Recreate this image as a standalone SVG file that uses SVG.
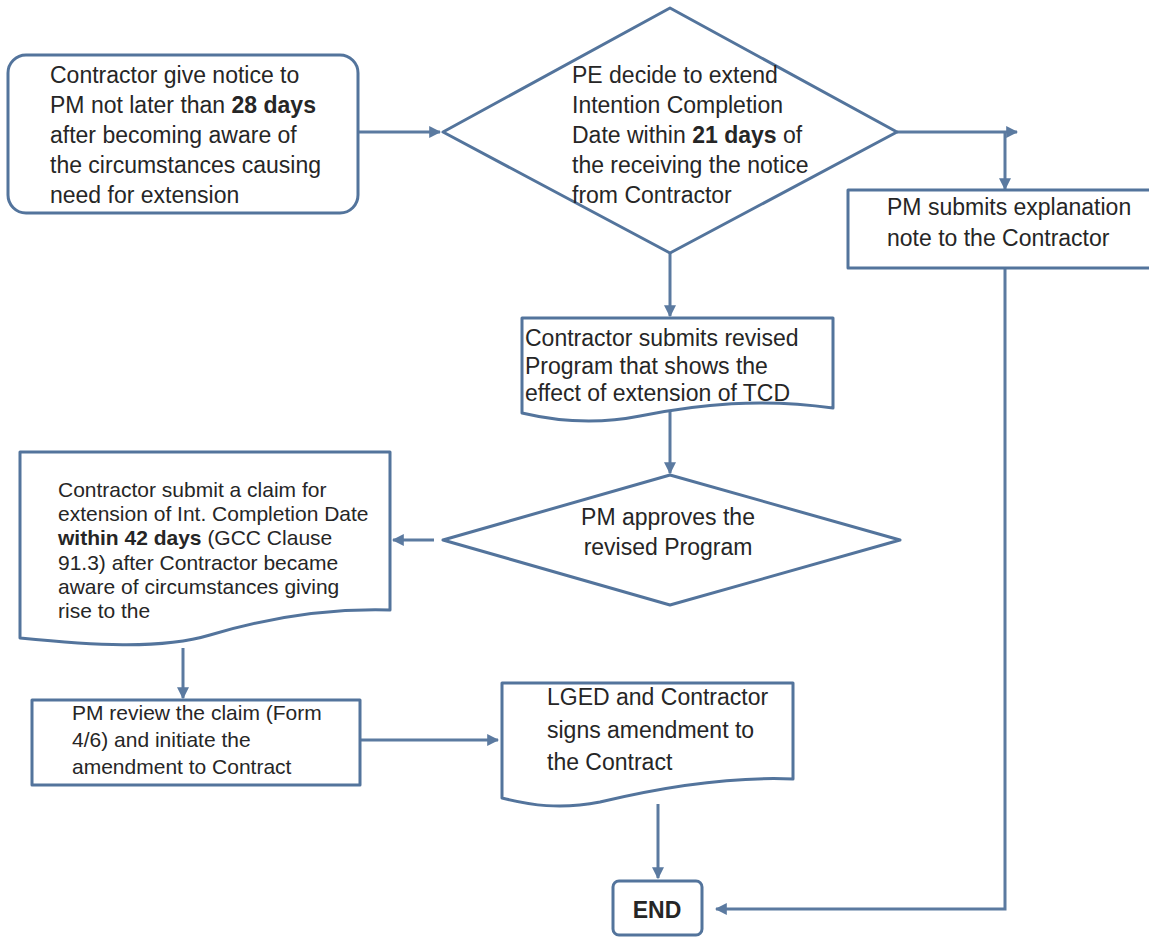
<svg xmlns="http://www.w3.org/2000/svg" width="1149" height="939" viewBox="0 0 1149 939">
<style>
.shape{fill:#ffffff;stroke:#53749c;stroke-width:3;stroke-linejoin:round}
.conn{fill:none;stroke:#5b7aa0;stroke-width:3}
text{font-family:"Liberation Sans",Arial,sans-serif;fill:#262626}
.t23{font-size:23px}
.t21{font-size:21px}
.b{font-weight:bold}
</style>
<defs>
<marker id="arr" viewBox="0 0 10 10" refX="9" refY="5" markerWidth="4" markerHeight="4" orient="auto" markerUnits="strokeWidth">
<path d="M0,0 L10,5 L0,10 Z" fill="#5b7aa0"/>
</marker>
</defs>
<rect width="1149" height="939" fill="#ffffff"/>
<g id="connectors">
<path class="conn" d="M358,132 H440" marker-end="url(#arr)"/>
<path class="conn" d="M897,132 H1017" marker-end="url(#arr)"/>
<path class="conn" d="M1005,132 V189" marker-end="url(#arr)"/>
<path class="conn" d="M1005,268 V909 H716" marker-end="url(#arr)"/>
<path class="conn" d="M670,253 V316" marker-end="url(#arr)"/>
<path class="conn" d="M670,412 V473" marker-end="url(#arr)"/>
<path class="conn" d="M434,540 H393" marker-end="url(#arr)"/>
<path class="conn" d="M183,648 V698" marker-end="url(#arr)"/>
<path class="conn" d="M360,740 H498" marker-end="url(#arr)"/>
<path class="conn" d="M658,804 V878" marker-end="url(#arr)"/>
</g>
<g id="n1">
<rect class="shape" x="8" y="55" width="350" height="158" rx="18"/>
<text class="t23" x="50" y="83">Contractor give notice to</text>
<text class="t23" x="50" y="113">PM not later than <tspan class="b">28 days</tspan></text>
<text class="t23" x="50" y="143">after becoming aware of</text>
<text class="t23" x="50" y="173">the circumstances causing</text>
<text class="t23" x="50" y="203">need for extension</text>
</g>
<g id="d1">
<path class="shape" d="M670,8 L897,132 L670,253 L443,132 Z"/>
<text class="t23" x="572" y="83">PE decide to extend</text>
<text class="t23" x="572" y="113">Intention Completion</text>
<text class="t23" x="572" y="143">Date within <tspan class="b">21 days</tspan> of</text>
<text class="t23" x="572" y="173">the receiving the notice</text>
<text class="t23" x="572" y="203">from Contractor</text>
</g>
<g id="n_explain">
<rect class="shape" x="848" y="190" width="310" height="78"/>
<text class="t23" x="887" y="215">PM submits explanation</text>
<text class="t23" x="887" y="246">note to the Contractor</text>
</g>
<g id="n_revised">
<path class="shape" d="M522,318 H833 V408 C760,398 700,404 640,416 C600,424 560,422 522,413 Z"/>
<text class="t23" x="525" y="346">Contractor submits revised</text>
<text class="t23" x="525" y="374">Program that shows the</text>
<text class="t23" x="525" y="401">effect of extension of TCD</text>
</g>
<g id="d2">
<path class="shape" d="M670,475 L900,540 L670,605 L443,540 Z"/>
<text class="t23" x="668" y="525" text-anchor="middle">PM approves the</text>
<text class="t23" x="668" y="555" text-anchor="middle">revised Program</text>
</g>
<g id="n_claim">
<path class="shape" d="M20,452 H390 V610 C320,608 260,620 210,635 C160,650 90,645 20,638 Z"/>
<text class="t21" x="58" y="497">Contractor submit a claim for</text>
<text class="t21" x="58" y="521">extension of Int. Completion Date</text>
<text class="t21" x="58" y="545"><tspan class="b">within 42 days</tspan> (GCC Clause</text>
<text class="t21" x="58" y="570">91.3) after Contractor became</text>
<text class="t21" x="58" y="594">aware of circumstances giving</text>
<text class="t21" x="58" y="618">rise to the</text>
</g>
<g id="n_review">
<rect class="shape" x="32" y="700" width="328" height="85"/>
<text class="t21" x="72" y="720">PM review the claim (Form</text>
<text class="t21" x="72" y="747">4/6) and initiate the</text>
<text class="t21" x="72" y="774">amendment to Contract</text>
</g>
<g id="n_lged">
<path class="shape" d="M502,683 H793 V779 C720,776 650,790 600,802 C560,810 530,805 502,798 Z"/>
<text class="t23" x="547" y="705">LGED and Contractor</text>
<text class="t23" x="547" y="738">signs amendment to</text>
<text class="t23" x="547" y="770">the Contract</text>
</g>
<g id="n_end">
<rect class="shape" x="613" y="881" width="89" height="54" rx="6"/>
<text class="t23 b" x="657" y="918" text-anchor="middle">END</text>
</g>
</svg>
